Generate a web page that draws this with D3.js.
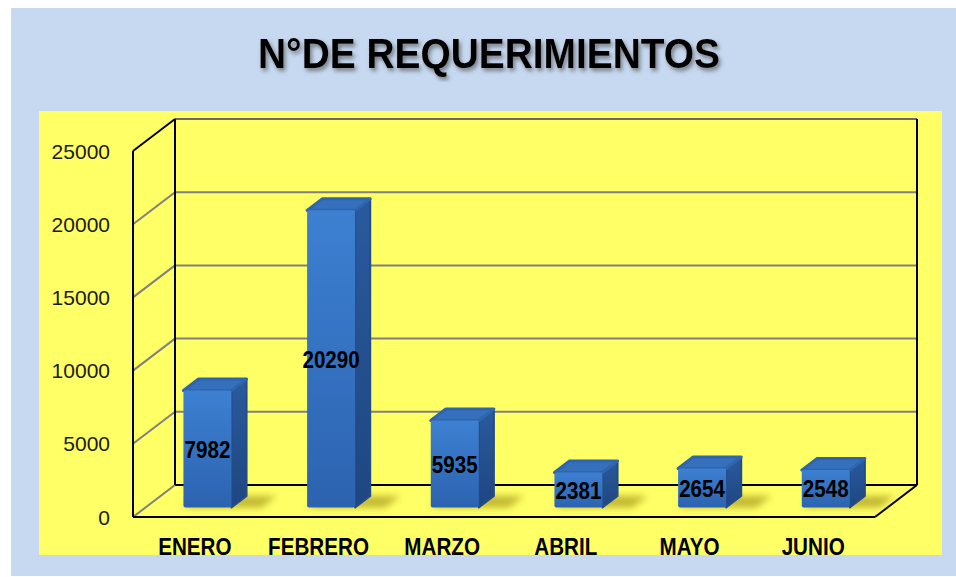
<!DOCTYPE html>
<html>
<head>
<meta charset="utf-8">
<title>N°DE REQUERIMIENTOS</title>
<style>
  body { margin: 0; background: #ffffff; }
  .narrow { font-family: "Liberation Sans", Arial, sans-serif; font-weight: bold; }
</style>
</head>
<body>
<div id="chart"></div>
<script src="https://cdnjs.cloudflare.com/ajax/libs/d3/7.8.5/d3.min.js"></script>
<script>
const months = ["ENERO", "FEBRERO", "MARZO", "ABRIL", "MAYO", "JUNIO"];
const requerimientos = [7982, 20290, 5935, 2381, 2654, 2548];
const yTicks = [0, 5000, 10000, 15000, 20000, 25000];

const W = 956, H = 577;
// 3d box: front plane and depth offset
const front = { left: 133, right: 875, base: 517 };
const depth = { dx: 42, dy: 32 };
const wallH = 366;
const barT0 = 0.3, barT1 = 0.66;
const squeeze = 0.86; // narrow look for the bold labels

const svg = d3.select("#chart").append("svg")
  .attr("width", W).attr("height", H);

const defs = svg.append("defs");
const gFront = defs.append("linearGradient").attr("id", "gFront")
  .attr("x1", 0).attr("y1", 0).attr("x2", 0).attr("y2", 1);
gFront.append("stop").attr("offset", "0%").attr("stop-color", "#3d80d2");
gFront.append("stop").attr("offset", "100%").attr("stop-color", "#2c63b0");
const gSide = defs.append("linearGradient").attr("id", "gSide")
  .attr("x1", 0).attr("y1", 0).attr("x2", 0).attr("y2", 1);
gSide.append("stop").attr("offset", "0%").attr("stop-color", "#2a5a9e");
gSide.append("stop").attr("offset", "100%").attr("stop-color", "#1f4680");

defs.append("filter").attr("id", "blur").attr("x", "-50%").attr("y", "-100%").attr("width", "200%").attr("height", "300%")
  .append("feGaussianBlur").attr("stdDeviation", 3.5);
defs.append("filter").attr("id", "tshadow")
  .append("feDropShadow").attr("dx", 2).attr("dy", 3).attr("stdDeviation", 2)
  .attr("flood-color", "#555").attr("flood-opacity", 0.7);

// background panel and plot area
svg.append("rect").attr("x", 11).attr("y", 8).attr("width", W - 11).attr("height", 568).attr("fill", "#c6d9f1");
svg.append("rect").attr("x", 39).attr("y", 111).attr("width", 903).attr("height", 444).attr("fill", "#ffff66");

// title
svg.append("text")
  .attr("x", 489).attr("y", 68)
  .attr("text-anchor", "middle")
  .attr("font-family", "Liberation Sans, Arial, sans-serif")
  .attr("font-weight", "bold").attr("font-size", 42)
  .attr("textLength", 462).attr("lengthAdjust", "spacingAndGlyphs")
  .attr("filter", "url(#tshadow)")
  .text("N°DE REQUERIMIENTOS");

const x = d3.scaleBand().domain(months).range([front.left, front.right]).paddingInner(0).paddingOuter(0);
const y = d3.scaleLinear().domain([0, 25000]).range([0, wallH]);
const px = (xv, t) => xv + depth.dx * t;
const py = (v, t) => front.base - depth.dy * t - y(v);

const grid = svg.append("g");
// gridlines on back wall and left wall
yTicks.forEach(v => {
  const col = v === 0 ? "#000" : "#808080";
  grid.append("line")
    .attr("x1", px(front.left, 1)).attr("y1", py(v, 1))
    .attr("x2", px(front.right, 1)).attr("y2", py(v, 1))
    .attr("stroke", v === 25000 ? "#6b6b6b" : col).attr("stroke-width", 2);
  grid.append("line")
    .attr("x1", px(front.left, 0)).attr("y1", py(v, 0))
    .attr("x2", px(front.left, 1)).attr("y2", py(v, 1))
    .attr("stroke", v === 25000 ? "#000" : "#808080").attr("stroke-width", 2);
});
// frame edges
const edges = [
  [[front.left, 0, 0], [front.left, 25000, 0]],
  [[front.left, 0, 1], [front.left, 25000, 1]],
  [[front.right, 0, 1], [front.right, 25000, 1]],
  [[front.left, 0, 0], [front.right, 0, 0]],
  [[front.right, 0, 0], [front.right, 0, 1]]
];
edges.forEach(([a, b]) => {
  grid.append("line")
    .attr("x1", px(a[0], a[2])).attr("y1", py(a[1], a[2]))
    .attr("x2", px(b[0], b[2])).attr("y2", py(b[1], b[2]))
    .attr("stroke", "#000").attr("stroke-width", 2);
});

// y axis labels
svg.append("g").selectAll("text").data(yTicks).join("text")
  .attr("x", 110).attr("y", d => py(d, 0))
  .attr("dy", "0.36em")
  .attr("text-anchor", "end")
  .attr("font-family", "Liberation Sans, Arial, sans-serif")
  .attr("font-size", 21).attr("fill", "#1a1a1a")
  .text(d => d);

// bars
const bw = 48;
const data = months.map((m, i) => ({ m, v: requerimientos[i] }));
const bars = svg.append("g").selectAll("g").data(data).join("g");

bars.append("polygon")
  .attr("filter", "url(#blur)")
  .attr("fill", "#a89a1c").attr("opacity", 0.7)
  .attr("points", d => {
    const cx = x(d.m) + x.bandwidth() / 2;
    const l = cx - bw / 2, r = cx + bw / 2;
    return [[px(l, barT0), py(0, barT0)], [px(r + 30, barT0), py(0, barT0)],
            [px(r + 30, barT1), py(0, barT1)], [px(l, barT1), py(0, barT1)]].join(" ");
  });

bars.append("polygon")
  .attr("fill", "url(#gSide)").attr("stroke", "#234d8a").attr("stroke-linejoin", "round").attr("stroke-width", 2)
  .attr("points", d => {
    const r = x(d.m) + x.bandwidth() / 2 + bw / 2;
    return [[px(r, barT0), py(0, barT0)], [px(r, barT1), py(0, barT1)],
            [px(r, barT1), py(d.v, barT1)], [px(r, barT0), py(d.v, barT0)]].join(" ");
  });
bars.append("polygon")
  .attr("fill", "#3670bd").attr("stroke", "#2f65ae").attr("stroke-linejoin", "round").attr("stroke-width", 3)
  .attr("points", d => {
    const cx = x(d.m) + x.bandwidth() / 2;
    const l = cx - bw / 2, r = cx + bw / 2;
    return [[px(l, barT0), py(d.v, barT0)], [px(r, barT0), py(d.v, barT0)],
            [px(r, barT1), py(d.v, barT1)], [px(l, barT1), py(d.v, barT1)]].join(" ");
  });
bars.append("rect")
  .attr("x", d => px(x(d.m) + x.bandwidth() / 2 - bw / 2, barT0))
  .attr("y", d => py(d.v, barT0))
  .attr("width", bw)
  .attr("height", d => y(d.v))
  .attr("rx", 2)
  .attr("fill", "url(#gFront)");

// value labels
bars.append("text")
  .attr("class", "narrow")
  .attr("transform", d => `translate(${px(x(d.m) + x.bandwidth() / 2, barT0)},${py(d.v / 2, barT0)}) scale(${squeeze},1)`)
  .attr("dy", "0.36em")
  .attr("text-anchor", "middle")
  .attr("font-size", 24).attr("fill", "#000")
  .text(d => d.v);

// category labels
svg.append("g").selectAll("text").data(months).join("text")
  .attr("class", "narrow")
  .attr("transform", d => `translate(${x(d) + x.bandwidth() / 2},555) scale(${squeeze},1)`)
  .attr("text-anchor", "middle")
  .attr("font-size", 24).attr("fill", "#000")
  .text(d => d);
</script>
</body>
</html>
